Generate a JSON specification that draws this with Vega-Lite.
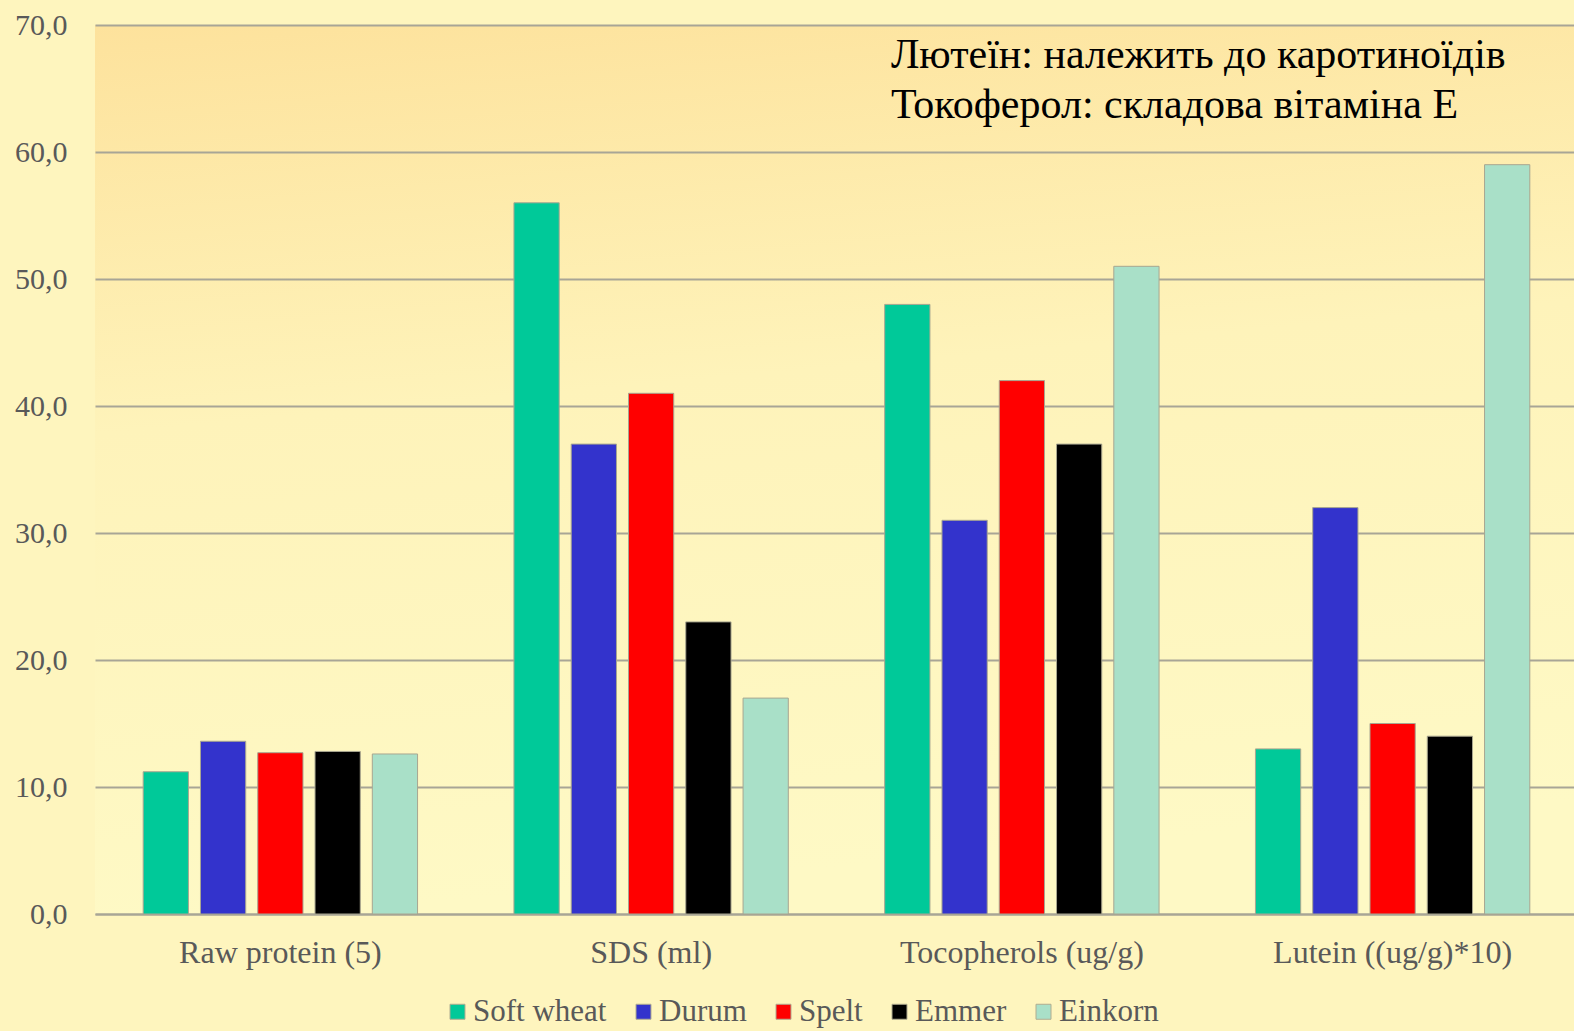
{
  "$schema": "https://vega.github.io/schema/vega-lite/v6.json",
  "autosize": {"type": "none"},
  "padding": {"left": 95, "top": 25, "right": 0, "bottom": 117},
  "width": 1483,
  "height": 889,
  "background": "#FEF5BE",
  "config": {
    "view": {
      "stroke": null,
      "fill": {
        "gradient": "linear",
        "x1": 0, "y1": 0, "x2": 0.15, "y2": 1,
        "stops": [
          {"offset": 0, "color": "#FDE29C"},
          {"offset": 0.45, "color": "#FEF3BA"},
          {"offset": 1, "color": "#FEF9C5"}
        ]
      }
    },
    "font": "Liberation Serif",
    "legend": {"labelFont": "Liberation Serif"},
    "axis": {"labelFont": "Liberation Serif"}
  },
  "layer": [
    {
      "data": {
        "values": [
          {"category": "Raw protein (5)", "variety": "Soft wheat", "value": 11.2},
          {"category": "Raw protein (5)", "variety": "Durum", "value": 13.6},
          {"category": "Raw protein (5)", "variety": "Spelt", "value": 12.7},
          {"category": "Raw protein (5)", "variety": "Emmer", "value": 12.8},
          {"category": "Raw protein (5)", "variety": "Einkorn", "value": 12.6},
          {"category": "SDS (ml)", "variety": "Soft wheat", "value": 56},
          {"category": "SDS (ml)", "variety": "Durum", "value": 37},
          {"category": "SDS (ml)", "variety": "Spelt", "value": 41},
          {"category": "SDS (ml)", "variety": "Emmer", "value": 23},
          {"category": "SDS (ml)", "variety": "Einkorn", "value": 17},
          {"category": "Tocopherols (ug/g)", "variety": "Soft wheat", "value": 48},
          {"category": "Tocopherols (ug/g)", "variety": "Durum", "value": 31},
          {"category": "Tocopherols (ug/g)", "variety": "Spelt", "value": 42},
          {"category": "Tocopherols (ug/g)", "variety": "Emmer", "value": 37},
          {"category": "Tocopherols (ug/g)", "variety": "Einkorn", "value": 51},
          {"category": "Lutein ((ug/g)*10)", "variety": "Soft wheat", "value": 13},
          {"category": "Lutein ((ug/g)*10)", "variety": "Durum", "value": 32},
          {"category": "Lutein ((ug/g)*10)", "variety": "Spelt", "value": 15},
          {"category": "Lutein ((ug/g)*10)", "variety": "Emmer", "value": 14},
          {"category": "Lutein ((ug/g)*10)", "variety": "Einkorn", "value": 59}
        ]
      },
      "mark": {"type": "bar", "stroke": "#A8A690", "strokeWidth": 1},
      "encoding": {
        "x": {
          "field": "category", "type": "nominal", "sort": null,
          "scale": {"paddingInner": 0.26, "paddingOuter": 0.13},
          "axis": {
            "title": null, "labelAngle": 0, "labelFontSize": 32, "labelColor": "#595959",
            "labelPadding": 23, "ticks": false, "domain": true, "domainColor": "#A8A596",
            "domainWidth": 2, "labelFont": "Liberation Serif", "labelLimit": 0
          }
        },
        "xOffset": {
          "field": "variety", "type": "nominal", "sort": null,
          "scale": {"paddingInner": 0.21, "paddingOuter": 0}
        },
        "y": {
          "field": "value", "type": "quantitative",
          "scale": {"domain": [0, 70]},
          "axis": {
            "title": null, "values": [0, 10, 20, 30, 40, 50, 60, 70], "format": ".1f",
            "labelExpr": "replace(datum.label, '.', ',')",
            "labelFontSize": 30, "labelColor": "#595959", "labelPadding": 28,
            "ticks": false, "domain": false, "grid": true, "gridColor": "#A8A596",
            "gridWidth": 2, "labelFont": "Liberation Serif"
          }
        },
        "color": {
          "field": "variety", "type": "nominal", "sort": null,
          "scale": {
            "domain": ["Soft wheat", "Durum", "Spelt", "Emmer", "Einkorn"],
            "range": ["#00C999", "#3333CC", "#FF0000", "#000000", "#A9E0C8"]
          },
          "legend": {
            "orient": "none", "legendX": 347, "legendY": 971, "direction": "horizontal", "title": null,
            "symbolType": "square", "symbolSize": 225, "symbolStrokeWidth": 1, "symbolStrokeColor": "#B0AC90",
            "labelFontSize": 31, "labelColor": "#595959", "labelFont": "Liberation Serif",
            "columnPadding": 21, "labelOffset": 0, "labelLimit": 0
          }
        }
      }
    },
    {
      "data": {"values": [{"note": "annotation"}]},
      "mark": {
        "type": "text", "align": "left", "baseline": "alphabetic",
        "fontSize": 42, "lineHeight": 50, "fill": "#000000", "fontWeight": "normal", "dx": -131,
        "font": "Liberation Serif"
      },
      "encoding": {
        "x": {"datum": "Tocopherols (ug/g)"},
        "y": {"datum": 66.6},
        "text": {"value": ["Лютеїн: належить до каротиноїдів", "Токоферол: складова вітаміна Е"]}
      }
    }
  ]
}
